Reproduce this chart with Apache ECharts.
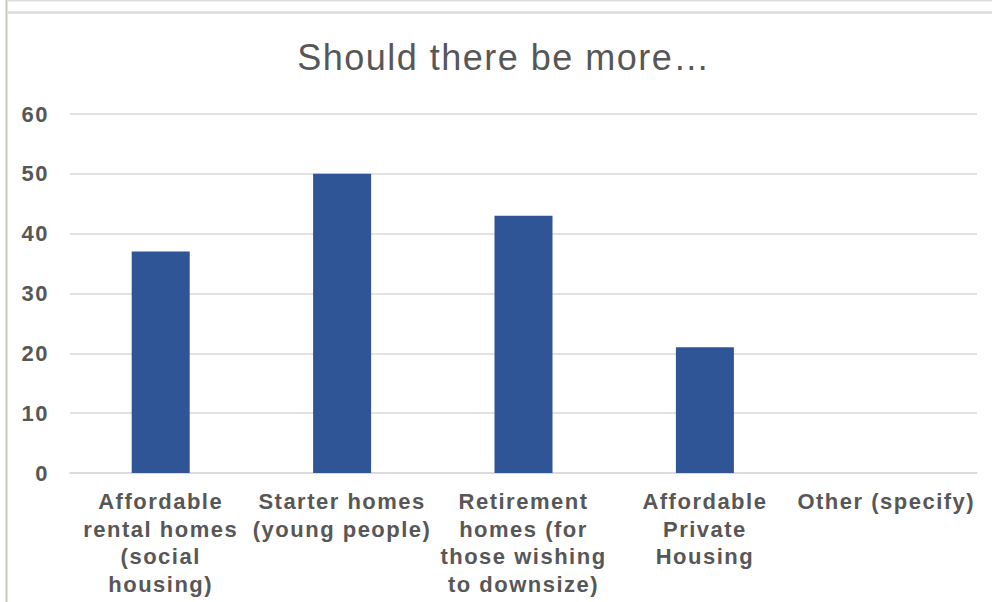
<!DOCTYPE html>
<html>
<head>
<meta charset="utf-8">
<title>Should there be more…</title>
<script src="https://cdn.jsdelivr.net/npm/echarts@6/dist/echarts.min.js"></script>
<style>
  html, body { margin: 0; padding: 0; background: #ffffff; }
  #chart { width: 992px; height: 602px; }
  #chart text { letter-spacing: 1.5px; }
</style>
</head>
<body>
<div id="chart"></div>
<script>
// Survey answers: which kinds of homes people want more of
const categories = [
  'Affordable\nrental homes\n(social\nhousing)',
  'Starter homes\n(young people)',
  'Retirement\nhomes (for\nthose wishing\nto downsize)',
  'Affordable\nPrivate\nHousing',
  'Other (specify)'
];
const responses = [37, 50, 43, 21, 0];
const yTicks = { min: 0, max: 60, interval: 10 };

const textColor = '#575757';
const chart = echarts.init(document.getElementById('chart'), null, { renderer: 'svg' });

chart.setOption({
  backgroundColor: '#ffffff',
  animation: false,
  title: {
    text: 'Should there be more…',
    left: 504,
    top: 39,
    textAlign: 'center',
    padding: 0,
    textStyle: {
      fontFamily: 'Liberation Sans, Arial, sans-serif',
      fontSize: 36,
      fontWeight: 'normal',
      color: textColor
    }
  },
  grid: { left: 70, right: 15, top: 114, bottom: 129 },
  xAxis: {
    type: 'category',
    data: categories,
    axisLine: { show: true, lineStyle: { color: '#d9d9d9', width: 1.5 } },
    axisTick: { show: false },
    axisLabel: {
      interval: 0,
      margin: 15,
      fontFamily: 'Liberation Sans, Arial, sans-serif',
      fontSize: 22,
      fontWeight: 'bold',
      lineHeight: 27.5,
      color: textColor
    }
  },
  yAxis: {
    type: 'value',
    min: yTicks.min,
    max: yTicks.max,
    interval: yTicks.interval,
    axisLine: { show: false },
    axisTick: { show: false },
    splitLine: { lineStyle: { color: '#d9d9d9', width: 1.5 } },
    axisLabel: {
      margin: 21,
      fontFamily: 'Liberation Sans, Arial, sans-serif',
      fontSize: 22,
      fontWeight: 'bold',
      color: textColor
    }
  },
  series: [{
    type: 'bar',
    data: responses,
    barWidth: 58,
    itemStyle: { color: '#2f5597' }
  }],
  graphic: [
    // frame edges around the chart area
    { type: 'line', shape: { x1: 8, y1: 0.5, x2: 992, y2: 0.5 }, style: { stroke: '#dedede', lineWidth: 2 } },
    { type: 'line', shape: { x1: 8, y1: 12.5, x2: 992, y2: 12.5 }, style: { stroke: '#dcdcdc', lineWidth: 2.5 } },
    { type: 'line', shape: { x1: 6.5, y1: 0, x2: 6.5, y2: 602 }, style: { stroke: '#c9c5b8', lineWidth: 2 } }
  ]
});
</script>
</body>
</html>
